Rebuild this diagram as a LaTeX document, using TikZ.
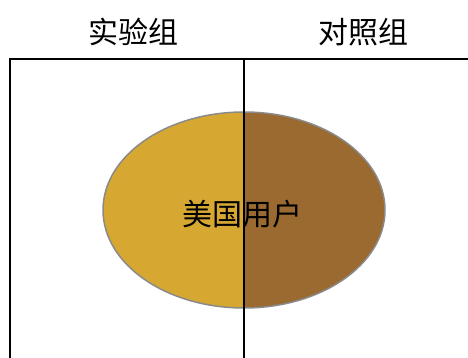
\documentclass[tikz,border=0pt]{standalone}
\usepackage{fontspec}
\newfontfamily\cjk{Noto Sans CJK SC}
\definecolor{goldL}{HTML}{D6A832}
\definecolor{brownR}{HTML}{9A6A30}
\definecolor{rimgray}{HTML}{8A8A8A}
\begin{document}
\begin{tikzpicture}[x=1pt,y=-1pt,
  hdr/.style={font=\cjk\fontsize{30}{30}\selectfont, inner sep=0pt},
  frameline/.style={line width=2pt, black}]
\useasboundingbox (0,0) rectangle (468,358);
% ellipse halves
\begin{scope}
  \clip (0,0) rectangle (244,358);
  \fill[goldL] (244,210) ellipse [x radius=141, y radius=98];
\end{scope}
\begin{scope}
  \clip (244,0) rectangle (468,358);
  \fill[brownR] (244,210) ellipse [x radius=141, y radius=98];
\end{scope}
\draw[rimgray, line width=1.5pt] (244,210) ellipse [x radius=141, y radius=98];
\node[hdr] (users) at (242,214) {美国用户};
% frame
\coordinate (tl) at (10,59);
\coordinate (tr) at (468,59);
\coordinate (bl) at (10,358);
\coordinate (tm) at (244,59);
\coordinate (bm) at (244,358);
\draw[frameline] (bl) -- (tl) -- (tr);
\draw[frameline] (tm) -- (bm);
% headers
\node[hdr] (exp) at (133,32) {实验组};
\node[hdr] (ctl) at (363,32) {对照组};
\end{tikzpicture}
\end{document}
